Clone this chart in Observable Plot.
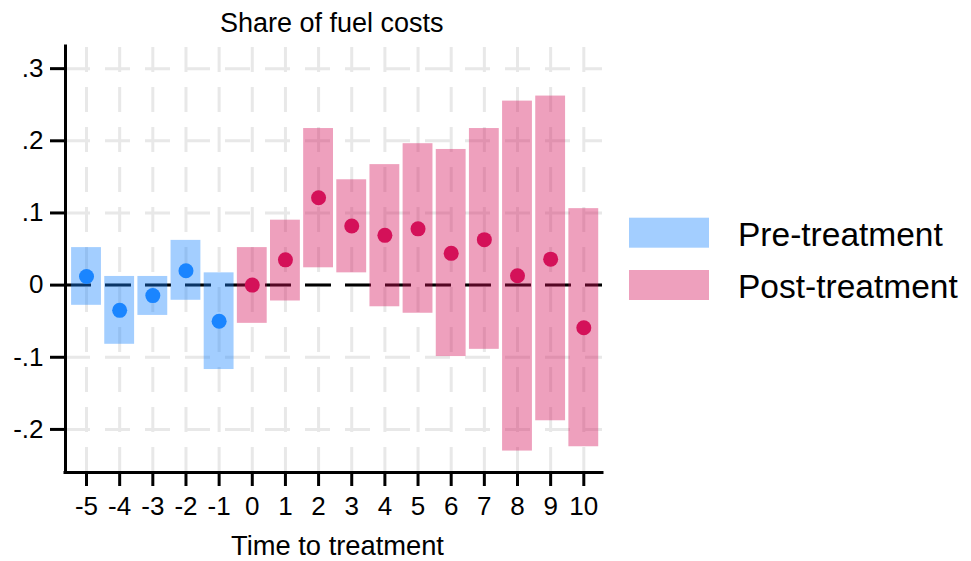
<!DOCTYPE html>
<html><head><meta charset="utf-8">
<script src="https://cdn.jsdelivr.net/npm/d3@7"></script>
<script src="https://cdn.jsdelivr.net/npm/@observablehq/plot@0.6"></script>
<style>body{margin:0;background:#fff}</style>
</head><body><div id="chart"></div>
<script>
const periods   = [-5, -4, -3, -2, -1, 0, 1, 2, 3, 4, 5, 6, 7, 8, 9, 10];
const estimates = [0.012, -0.035, -0.0145, 0.020, -0.050, 0.000, 0.035, 0.121, 0.082, 0.069, 0.078, 0.044, 0.063, 0.013, 0.036, -0.059];
const lower     = [-0.028, -0.082, -0.042, -0.021, -0.117, -0.053, -0.022, 0.024, 0.017, -0.030, -0.039, -0.099, -0.089, -0.230, -0.188, -0.224];
const upper     = [0.052, 0.012, 0.012, 0.062, 0.017, 0.052, 0.090, 0.217, 0.146, 0.167, 0.196, 0.188, 0.217, 0.255, 0.262, 0.106];
const yTickValues = [-0.2, -0.1, 0, 0.1, 0.2, 0.3];
const seriesNames = ["Pre-treatment", "Post-treatment"];
const seriesColors = ["#1A85FF", "#D41159"];
const titleText = "Share of fuel costs";
const xLabelText = "Time to treatment";

const FONT = "'Liberation Sans', Arial, Helvetica, sans-serif";
const rows = periods.map((t, i) => ({
  t, est: estimates[i], lo: lower[i], hi: upper[i],
  phase: t < 0 ? seriesNames[0] : seriesNames[1]
}));
const xDomain = [-5.634, 10.564];
const yDomain = [-0.2597, 0.3307];
const fmtY = d => d === 0 ? "0" : (d < 0 ? "-" : "") + "." + Math.round(Math.abs(d) * 10);
const GRID = "#e8e8e8";

const svg = Plot.plot({
  width: 971, height: 561,
  marginLeft: 65, marginRight: 369, marginTop: 46, marginBottom: 89,
  style: {fontFamily: FONT, fontSize: "26px", background: "white", color: "black"},
  x: {type: "linear", domain: xDomain},
  y: {domain: yDomain},
  color: {domain: seriesNames, range: seriesColors},
  marks: [
    Plot.ruleX(periods, {x: d => d, y1: yDomain[0], y2: yDomain[1], stroke: GRID, strokeWidth: 3, strokeDasharray: "25,15"}),
    Plot.ruleY(yTickValues, {y: d => d, x1: xDomain[0], x2: xDomain[1], stroke: GRID, strokeWidth: 3, strokeDasharray: "25,15"}),
    Plot.ruleY([0], {y: d => d, x1: xDomain[0], x2: xDomain[1], stroke: "black", strokeWidth: 3, strokeDasharray: "26,14"}),
    Plot.rect(rows, {x1: d => d.t - 0.45, x2: d => d.t + 0.45, y1: "lo", y2: "hi", fill: "phase", fillOpacity: 0.4}),
    Plot.dot(rows, {x: "t", y: "est", r: 7.5, fill: "phase", stroke: null}),
    Plot.axisX({ticks: periods, tickFormat: d => String(d), tickSize: 14, tickPadding: 10, strokeWidth: 3, fontSize: 26, label: null}),
    Plot.axisY({ticks: yTickValues, tickFormat: fmtY, tickSize: 15, tickPadding: 7, strokeWidth: 3, fontSize: 26, label: null}),
    Plot.ruleX([xDomain[0]], {x: d => d, y1: yDomain[0], y2: yDomain[1], stroke: "black", strokeWidth: 3, strokeLinecap: "square"}),
    Plot.ruleY([yDomain[0]], {y: d => d, x1: xDomain[0], x2: xDomain[1], stroke: "black", strokeWidth: 3, strokeLinecap: "square"})
  ]
});
document.getElementById("chart").appendChild(svg);

const s = d3.select(svg);
s.append("text").attr("x", 331.7).attr("y", 32.3).attr("text-anchor", "middle")
  .attr("font-family", FONT).attr("font-size", 27).attr("fill", "black").text(titleText);
s.append("text").attr("x", 337.5).attr("y", 555).attr("text-anchor", "middle")
  .attr("font-family", FONT).attr("font-size", 27.3).attr("fill", "black").text(xLabelText);

const legend = s.append("g");
seriesNames.forEach((name, i) => {
  const y0 = 217.7 + i * 52.3;
  legend.append("rect").attr("x", 629).attr("y", y0).attr("width", 80).attr("height", 30)
    .attr("fill", seriesColors[i]).attr("fill-opacity", 0.4);
  legend.append("text").attr("x", 738).attr("y", y0 + 28).attr("text-anchor", "start")
    .attr("font-family", FONT).attr("font-size", 33.5).attr("fill", "black").text(name);
});
</script></body></html>
